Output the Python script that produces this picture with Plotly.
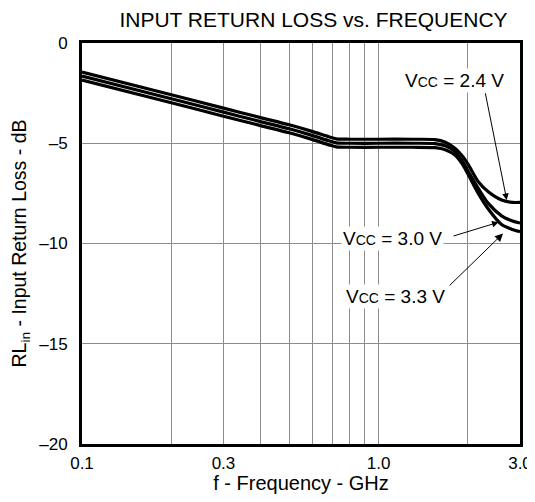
import math
import plotly.graph_objects as go

# ---- data ----
freq_ghz = [0.1, 0.2, 0.3, 0.4, 0.5, 0.6, 0.68, 0.72, 0.8, 1.0, 1.3, 1.55,
            1.68, 1.81, 1.92, 2.01, 2.17, 2.345, 2.6, 2.83, 3.0]
rl_vcc_24 = [-1.45, -2.58, -3.25, -3.72, -4.08, -4.42, -4.68, -4.78, -4.80, -4.80, -4.80, -4.82,
             -4.95, -5.25, -5.65, -6.08, -6.92, -7.42, -7.83, -7.95, -7.95]
rl_vcc_30 = [-1.65, -2.78, -3.45, -3.92, -4.28, -4.62, -4.88, -4.98, -5.00, -5.00, -5.00, -5.02,
             -5.13, -5.42, -5.90, -6.42, -7.25, -8.00, -8.62, -8.88, -8.98]
rl_vcc_33 = [-1.85, -2.98, -3.65, -4.12, -4.48, -4.82, -5.08, -5.18, -5.20, -5.20, -5.20, -5.22,
             -5.32, -5.59, -6.05, -6.58, -7.50, -8.28, -9.05, -9.30, -9.41]
series_names = ["VCC = 2.4 V", "VCC = 3.0 V", "VCC = 3.3 V"]

x_tickvals = [0.1, 0.2, 0.3, 0.4, 0.5, 0.6, 0.7, 0.8, 0.9, 1.0, 2.0, 3.0]
x_ticktext = ["0.1", "", "0.3", "", "", "", "", "", "", "1.0", "", "3.0"]
y_tickvals = [0, -5, -10, -15, -20]
y_ticktext = ["0", "\u20135", "\u201310", "\u201315", "\u201320"]

FONT = "Liberation Sans, Arial, Helvetica, sans-serif"

# page body has an 8px default margin; size the figure so the plot area lands
# at x 82..520, y 43..444 of the 535x502 window without causing scrollbars
W, H = 527, 486

fig = go.Figure()
for name, vals in zip(series_names, [rl_vcc_24, rl_vcc_30, rl_vcc_33]):
    fig.add_trace(go.Scatter(
        x=freq_ghz, y=vals, mode="lines", name=name,
        line=dict(color="black", width=3.2, shape="spline", smoothing=0.8),
        showlegend=False, hoverinfo="skip"))

def lx(f):
    return math.log10(f)

label_font = dict(family=FONT, size=19, color="black")
cc = "<span style='font-size:14px'>CC</span>"
annotations = [
    dict(x=lx(1.80), y=-1.85, text="V" + cc + " = 2.4 V", showarrow=False,
         bgcolor="white", font=label_font, xref="x", yref="y"),
    dict(x=lx(1.115), y=-9.74, text="V" + cc + " = 3.0 V", showarrow=False,
         bgcolor="white", font=label_font, xref="x", yref="y"),
    dict(x=lx(1.137), y=-12.65, text="V" + cc + " = 3.3 V", showarrow=False,
         bgcolor="white", font=label_font, xref="x", yref="y"),
    # arrows
    dict(x=0.4324, y=-7.83, ax=0.3592, ay=-2.43, xref="x", yref="y", axref="x", ayref="y",
         text="", showarrow=True, arrowhead=2, arrowsize=1.3, arrowwidth=1, arrowcolor="black"),
    dict(x=0.4047, y=-8.94, ax=0.2479, ay=-9.65, xref="x", yref="y", axref="x", ayref="y",
         text="", showarrow=True, arrowhead=2, arrowsize=1.3, arrowwidth=1, arrowcolor="black"),
    dict(x=0.4199, y=-9.50, ax=0.2344, ay=-12.17, xref="x", yref="y", axref="x", ayref="y",
         text="", showarrow=True, arrowhead=2, arrowsize=1.6, arrowwidth=1, arrowcolor="black"),
]

fig.update_layout(
    width=W, height=H,
    margin=dict(l=74, r=15, t=35, b=50, autoexpand=False),
    paper_bgcolor="white", plot_bgcolor="white",
    font=dict(family=FONT, size=17, color="black"),
    title=dict(text="INPUT RETURN LOSS vs. FREQUENCY", font=dict(family=FONT, size=21),
               x=(313.5 - 8) / W, xref="container", xanchor="center",
               y=1 - 12 / H, yref="container", yanchor="middle"),
    annotations=annotations,
)
fig.update_xaxes(
    type="log", range=[lx(0.1), lx(3.0)],
    tickvals=x_tickvals, ticktext=x_ticktext,
    showgrid=True, gridcolor="#8c8c8c", gridwidth=1,
    showline=True, linecolor="black", linewidth=3, mirror=True,
    ticks="outside", ticklen=2, tickcolor="rgba(0,0,0,0)",
    tickfont=dict(size=17), ticklabeloverflow="allow",
    title=dict(text="f - Frequency - GHz", font=dict(size=20), standoff=6),
    zeroline=False,
)
fig.update_yaxes(
    range=[-20, 0],
    tickvals=y_tickvals, ticktext=y_ticktext,
    showgrid=True, gridcolor="#8c8c8c", gridwidth=1,
    showline=True, linecolor="black", linewidth=3, mirror=True,
    ticks="outside", ticklen=8, tickcolor="rgba(0,0,0,0)",
    tickfont=dict(size=17),
    title=dict(text="RL<sub>in</sub> - Input Return Loss - dB", font=dict(size=19.5), standoff=10),
    zeroline=False,
)

fig.write_html("out.html")
